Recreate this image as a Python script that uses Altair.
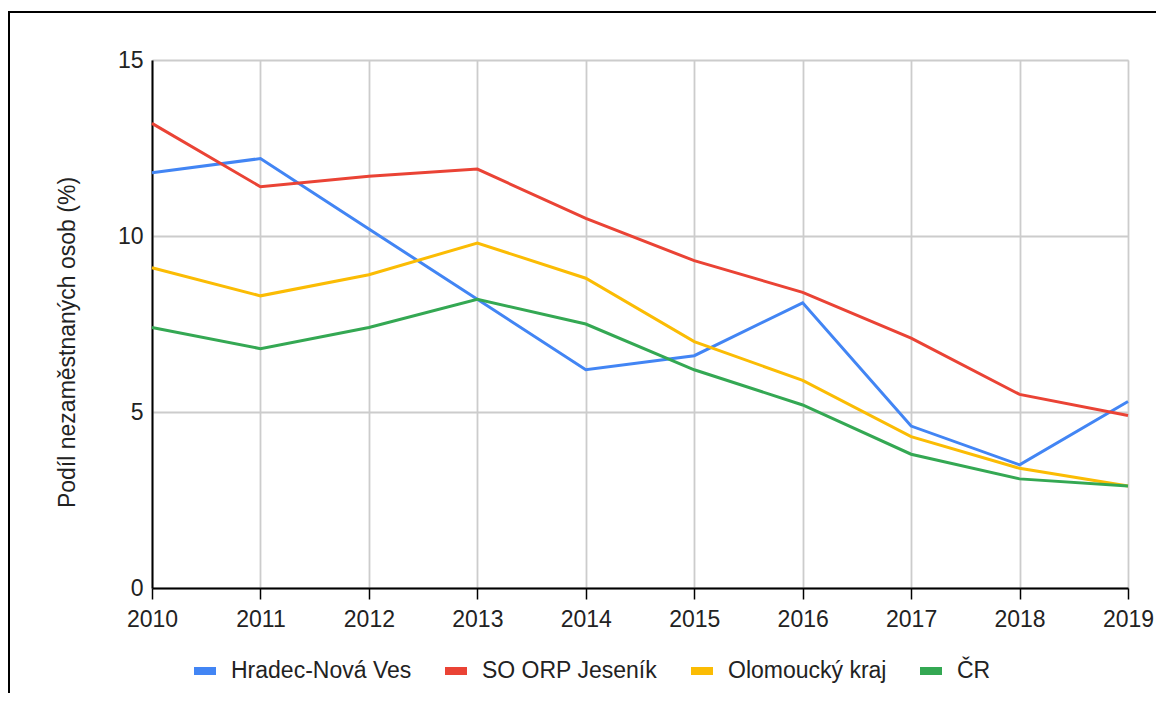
import altair as alt
import pandas as pd

# ---- data ----
years = [2010, 2011, 2012, 2013, 2014, 2015, 2016, 2017, 2018, 2019]
series_names = ["Hradec-Nová Ves", "SO ORP Jeseník", "Olomoucký kraj", "ČR"]
series_colors = ["#4285F4", "#EA4335", "#FBBC04", "#34A853"]

hradec = [11.8, 12.2, 10.2, 8.2, 6.2, 6.6, 8.1, 4.6, 3.5, 5.3]
jesenik = [13.2, 11.4, 11.7, 11.9, 10.5, 9.3, 8.4, 7.1, 5.5, 4.9]
olomouc = [9.1, 8.3, 8.9, 9.8, 8.8, 7.0, 5.9, 4.3, 3.4, 2.9]
cr = [7.4, 6.8, 7.4, 8.2, 7.5, 6.2, 5.2, 3.8, 3.1, 2.9]

y_ticks = [0, 5, 10, 15]

rows = []
for name, vals in zip(series_names, [hradec, jesenik, olomouc, cr]):
    for yr, v in zip(years, vals):
        rows.append({"rok": yr, "podil": v, "serie": name})
df = pd.DataFrame(rows)

FONT = "Liberation Sans, Arial, sans-serif"
TXT = "#222222"
FS = 23

lines = alt.Chart(df).mark_line(strokeWidth=3).encode(
    x=alt.X(
        "rok:Q",
        scale=alt.Scale(domain=[years[0], years[-1]], nice=False, zero=False),
        axis=alt.Axis(
            values=years, format="d", title=None, grid=True,
            gridColor="#cccccc", gridWidth=1.8,
            domainColor="black", domainWidth=2,
            ticks=True, tickColor="black", tickSize=11, tickWidth=1.5,
            labelFontSize=FS, labelColor=TXT, labelPadding=9, labelFont=FONT,
            labelFlush=False, labelOverlap=False,
        ),
    ),
    y=alt.Y(
        "podil:Q",
        scale=alt.Scale(domain=[0, 15], nice=False),
        axis=alt.Axis(
            values=y_ticks, title="Podíl nezaměstnaných osob (%)",
            grid=True, gridColor="#cccccc", gridWidth=1.8,
            domainColor="black", domainWidth=2,
            ticks=False, labelPadding=9,
            labelFontSize=FS, labelColor=TXT, labelFont=FONT,
            titleFontSize=FS, titleFontWeight="normal", titleColor=TXT,
            titleFont=FONT, titleX=-78, titleY=282, titleAlign="center",
            titleBaseline="alphabetic", titleAngle=270,
        ),
    ),
    color=alt.Color(
        "serie:N",
        sort=series_names,
        scale=alt.Scale(domain=series_names, range=series_colors),
        legend=alt.Legend(
            title=None, orient="none", legendX=38, legendY=596,
            direction="horizontal", padding=0,
            symbolType="M-1,0L1,0", symbolSize=484, symbolStrokeWidth=8,
            labelFontSize=FS, labelColor=TXT, labelFont=FONT,
            labelOffset=11, columnPadding=17, labelLimit=400,
        ),
    ),
)

frame_top = alt.Chart(pd.DataFrame({"k": [0]})).mark_rule(
    color="black", strokeWidth=2
).encode(x=alt.value(-144), x2=alt.value(1200), y=alt.value(-48))

frame_left = alt.Chart(pd.DataFrame({"k": [0]})).mark_rule(
    color="black", strokeWidth=2
).encode(x=alt.value(-143), y=alt.value(-48), y2=alt.value(700))

chart = alt.layer(lines, frame_top, frame_left).properties(
    width=976,
    height=528,
    padding={"left": 144, "top": 52, "right": 28, "bottom": 105},
    autosize=alt.AutoSizeParams(type="none"),
).configure_view(stroke=None).configure(font=FONT)

chart.save("out.html", embed_options={"renderer": "svg", "actions": False})
